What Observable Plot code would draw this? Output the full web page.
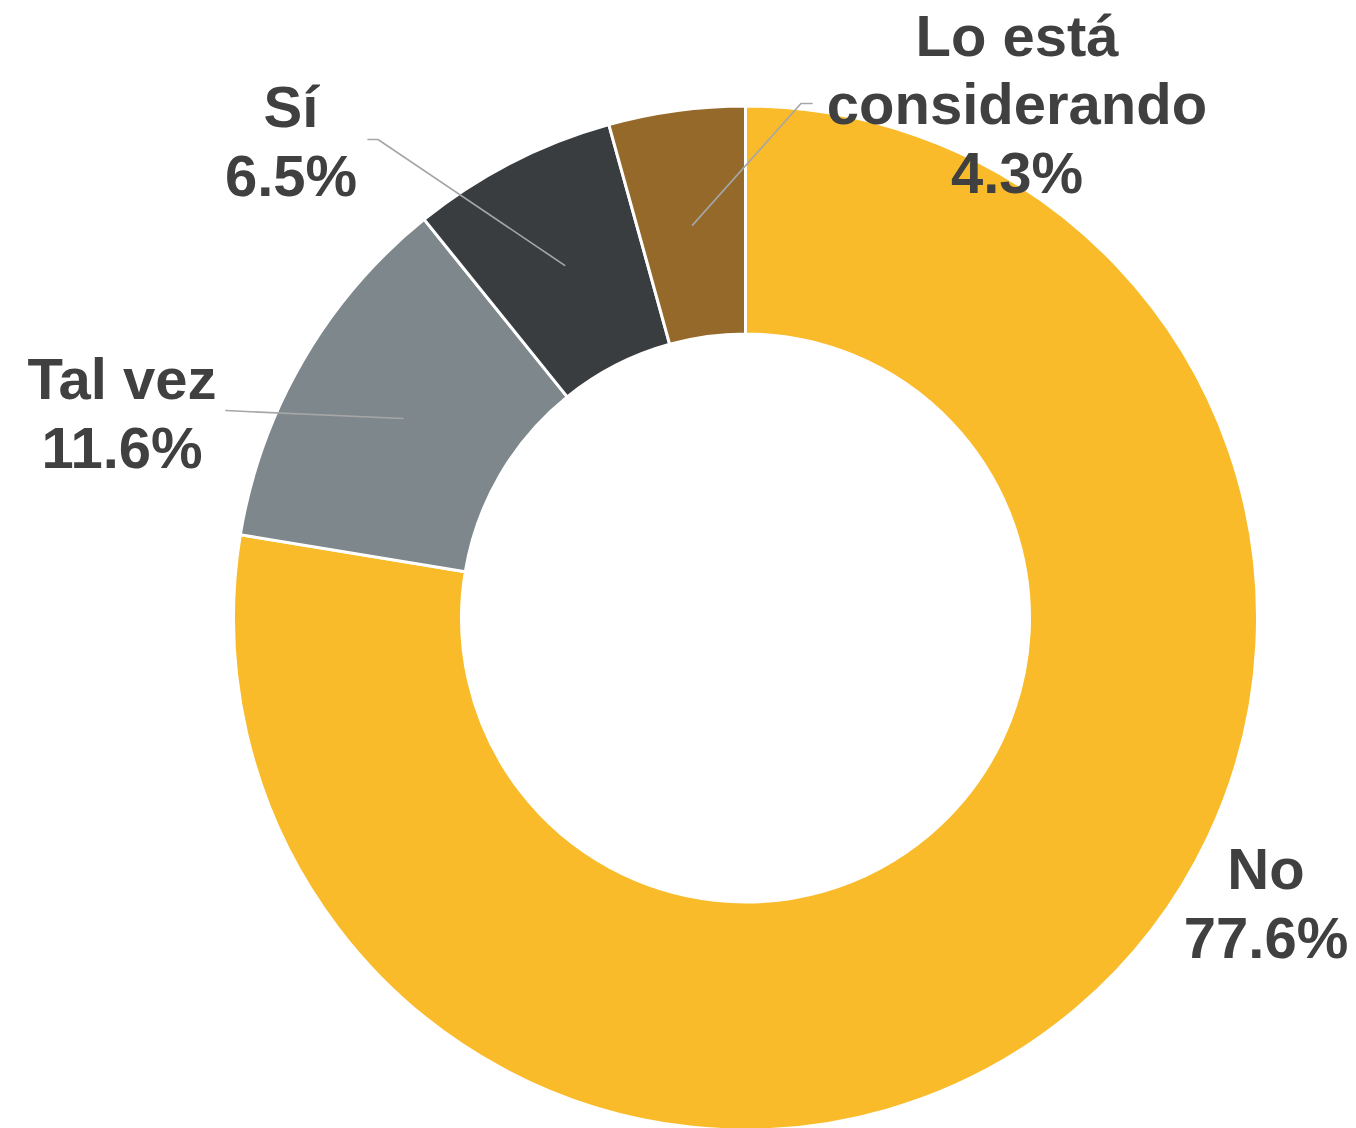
<!DOCTYPE html>
<html>
<head>
<meta charset="utf-8">
<script src="https://cdn.jsdelivr.net/npm/d3@7"></script>
<script src="https://cdn.jsdelivr.net/npm/@observablehq/plot@0.6"></script>
<style>
  html, body { margin: 0; padding: 0; background: #ffffff; overflow: hidden; }
  #chart svg { display: block; }
</style>
</head>
<body>
<div id="chart"></div>
<script>
// ---- data ----
const categories = ["No", "Tal vez", "Sí", "Lo está considerando"];
const values = [77.6, 11.6, 6.5, 4.3];
const labelNames = ["No", "Tal vez", "Sí", "Lo está\nconsiderando"];
const sliceColors = ["#F9BB29", "#7E878C", "#3A3D40", "#94692A"];

// ---- layout (pixel units relative to the donut centre) ----
const outerR = 512, innerR = 284, leaderR = 397;
const labelPos = [[520, 339], [-624, -151], [-455, -423], [271, -426]];
const leaderStart = [null, [[-520, -208], [-500, -207]], [[-378, -479], [-368, -479]], [[66, -515], [55, -515]]];

const color = Plot.scale({color: {type: "ordinal", domain: categories, range: sliceColors}});

const table = categories.map((c, i) => ({category: c, value: values[i], label: labelNames[i] + "\n" + values[i].toFixed(1) + "%"}));
const pie = d3.pie().sort(null).value(d => d.value)(table);

const labels = table.map((d, i) => ({...d, lx: labelPos[i][0], ly: labelPos[i][1]}));

const leaders = [];
pie.forEach((p, i) => {
  if (!leaderStart[i]) return;
  const a = (p.startAngle + p.endAngle) / 2;
  leaderStart[i].forEach(pt => leaders.push({k: i, x: pt[0], y: pt[1]}));
  leaders.push({k: i, x: leaderR * Math.sin(a), y: -leaderR * Math.cos(a)});
});

function donut(index, scales) {
  const cx = scales.x(0), cy = scales.y(0);
  const k = scales.x(1) - scales.x(0);
  const g = d3.create("svg:g").attr("transform", `translate(${cx},${cy})`);
  const arc = d3.arc().innerRadius(innerR * k).outerRadius(outerR * k);
  g.selectAll("path").data(pie).join("path")
    .attr("d", arc)
    .attr("fill", d => color.apply(d.data.category))
    .attr("stroke", "#ffffff")
    .attr("stroke-width", 3)
    .attr("stroke-linejoin", "round");
  return g.node();
}

const chart = Plot.plot({
  width: 1356,
  height: 1128,
  margin: 0,
  x: {type: "linear", domain: [-745.5, 610.5], range: [0, 1356], axis: null},
  y: {type: "linear", domain: [-618, 510], range: [0, 1128], axis: null},
  style: {background: "#ffffff"},
  marks: [
    donut,
    Plot.line(leaders, {x: "x", y: "y", z: "k", stroke: "#A6A6A6", strokeWidth: 1.6, curve: "linear"}),
    Plot.text(labels, {
      x: "lx", y: "ly", text: "label",
      textAnchor: "middle", lineAnchor: "bottom", lineHeight: 1.18,
      fontSize: 58, fontWeight: "bold",
      fontFamily: "'Liberation Sans', Arial, sans-serif",
      fill: "#404040"
    })
  ]
});
document.getElementById("chart").appendChild(chart);
</script>
</body>
</html>
